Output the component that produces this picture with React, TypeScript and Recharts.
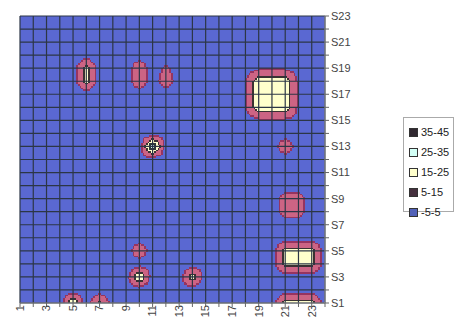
import React from "react";
import {
  ComposedChart,
  XAxis,
  YAxis,
  Scatter,
  ReferenceArea,
  ReferenceLine,
} from "recharts";

// categories along the bottom, series along the right side
const CATEGORIES = [
  1, 2, 3, 4, 5, 6, 7, 8, 9, 10, 11, 12, 13, 14, 15, 16, 17, 18, 19, 20, 21, 22,
  23, 24,
];
const SERIES_NAMES = [
  "S1", "S2", "S3", "S4", "S5", "S6", "S7", "S8", "S9", "S10", "S11", "S12",
  "S13", "S14", "S15", "S16", "S17", "S18", "S19", "S20", "S21", "S22", "S23",
];

// surface values, one row per series (index 0 = category 1)
const S1 = [0, 0, 0, 0, 27, 0, 18, 0, 0, 0, 0, 0, 0, 0, 0, 0, 0, 0, 0, 0, 20, 20, 20, 0];
const S2 = [0, 0, 0, 0, 0, 0, 0, 0, 3, 0, 0, 0, 3, 0, 0, 0, 0, 0, 0, 0, 0, 0, 0, 0];
const S3 = [0, 0, 0, 0, 0, 0, 0, 0, 0, 28, 0, 0, 0, 23, 0, 0, 0, 0, 0, 0, 0, 0, 0, 0];
const S4 = [0, 0, 0, 0, 0, 0, 0, 0, 0, 0, 3, 0, 0, 0, 3, 0, 0, 0, 0, 0, 21, 21, 21, 0];
const S5 = [0, 0, 0, 0, 0, 0, 0, 0, 0, 13, 0, 0, 0, 0, 0, 0, 0, 0, 0, 0, 21, 21, 21, 0];
const S6 = [0, 0, 0, 0, 0, 0, 0, 0, 0, 0, 0, 0, 0, 0, 0, 0, 0, 0, 0, 0, 0, 0, 0, 0];
const S7 = [0, 0, 0, 0, 0, 0, 0, 0, 0, 0, 0, 0, 0, 0, 0, 0, 0, 0, 0, 0, 0, 0, 0, 0];
const S8 = [0, 0, 0, 0, 0, 0, 0, 0, 0, 0, 0, 0, 0, 0, 0, 0, 0, 0, 0, 0, 10, 10, 0, 0];
const S9 = [0, 0, 0, 0, 0, 0, 0, 0, 0, 0, 0, 0, 0, 0, 0, 0, 0, 0, 0, 0, 10, 10, 0, 0];
const S10 = [0, 0, 0, 0, 0, 0, 0, 0, 0, 0, 0, 0, 0, 0, 0, 0, 0, 0, 0, 0, 0, 0, 0, 0];
const S11 = [0, 0, 0, 0, 0, 0, 0, 0, 0, 0, 0, 0, 0, 0, 0, 0, 0, 0, 0, 0, 0, 0, 0, 0];
const S12 = [0, 0, 0, 0, 0, 0, 0, 0, 0, 3, 0, 0, 0, 0, 0, 0, 0, 0, 0, 3, 0, 0, 0, 0];
const S13 = [0, 0, 0, 0, 0, 0, 0, 0, 0, 0, 38, 0, 0, 0, 0, 0, 0, 0, 0, 0, 13, 0, 0, 0];
const S14 = [0, 0, 0, 0, 0, 0, 0, 0, 0, 0, 0, 3, 0, 0, 0, 0, 0, 0, 0, 0, 0, 0, 0, 0];
const S15 = [0, 0, 0, 0, 0, 0, 0, 0, 0, 0, 0, 0, 0, 0, 0, 0, 0, 0, 4, 4, 4, 2, 0, 0];
const S16 = [0, 0, 0, 0, 0, 0, 0, 0, 0, 0, 0, 0, 0, 0, 0, 0, 0, 5, 23, 23, 23, 4, 0, 0];
const S17 = [0, 0, 0, 0, 0, 0, 0, 0, 0, 0, 0, 0, 0, 0, 0, 0, 0, 5, 23, 23, 23, 4, 0, 0];
const S18 = [0, 0, 0, 0, 0, 20, 0, 0, 0, 14, 0, 12, 0, 0, 0, 0, 0, 5, 23, 23, 23, 4, 0, 0];
const S19 = [0, 0, 0, 0, 0, 20, 0, 0, 0, 13, 0, 7, 0, 0, 0, 0, 0, 0, 4, 4, 4, 0, 0, 0];
const S20 = [0, 0, 0, 0, 0, 0, 0, 0, 0, 0, 0, 0, 0, 0, 0, 0, 0, 0, 0, 0, 0, 0, 0, 0];
const S21 = [0, 0, 0, 0, 0, 0, 0, 0, 0, 0, 0, 0, 0, 0, 0, 0, 0, 0, 0, 0, 0, 0, 0, 0];
const S22 = [0, 0, 0, 0, 0, 0, 0, 0, 0, 0, 0, 0, 0, 0, 0, 0, 0, 0, 0, 0, 0, 0, 0, 0];
const S23 = [0, 0, 0, 0, 0, 0, 0, 0, 0, 0, 0, 0, 0, 0, 0, 0, 0, 0, 0, 0, 0, 0, 0, 0];

const ROWS = [
  S1, S2, S3, S4, S5, S6, S7, S8, S9, S10, S11, S12, S13, S14, S15, S16, S17,
  S18, S19, S20, S21, S22, S23,
];

// contour bands
const BAND_LABELS = ["-5-5", "5-15", "15-25", "25-35", "35-45"];
const BAND_LIMITS = [5, 15, 25, 35];

const BAND_FILL = ["#5a68d2", "#cc6484", "#ffffcc", "#d2fff6", "#3a2840"];
const BAND_EDGE = ["#5a68d2", "#963460", "#3a3232", "#2e3a3a", "#201822"];
const LEGEND_SWATCH = ["#5262b8", "#45303e", "#ffffcc", "#d2fff6", "#302830"];
const GRID_LINE = "#2c3646";

const SUB = 8;

function valueAt(x: number, y: number) {
  const i = Math.min(Math.floor(x - 1), CATEGORIES.length - 2);
  const j = Math.min(Math.floor(y - 1), ROWS.length - 2);
  const u = x - 1 - i;
  const v = y - 1 - j;
  const a = ROWS[j][i];
  const b = ROWS[j][i + 1];
  const c = ROWS[j + 1][i];
  const d = ROWS[j + 1][i + 1];
  return a * (1 - u) * (1 - v) + b * u * (1 - v) + c * (1 - u) * v + d * u * v;
}

function bandOf(v: number) {
  let b = 0;
  for (const lim of BAND_LIMITS) if (v >= lim) b++;
  return b;
}

type Cell = { x1: number; x2: number; y1: number; y2: number; fill: string };

// split each grid cell into SUB x SUB pieces and merge runs of one band per row
function buildCells(): Cell[] {
  const cols = (CATEGORIES.length - 1) * SUB;
  const rows = (ROWS.length - 1) * SUB;
  const bands: number[][] = [];
  for (let r = 0; r < rows; r++) {
    const line: number[] = [];
    for (let c = 0; c < cols; c++) {
      line.push(bandOf(valueAt(1 + (c + 0.5) / SUB, 1 + (r + 0.5) / SUB)));
    }
    bands.push(line);
  }
  const out: Cell[] = [];
  for (let r = 0; r < rows; r++) {
    let start = 0;
    let prev = -1;
    const flush = (end: number) => {
      if (prev > 0) {
        const band = prev >> 1;
        const edge = prev & 1;
        out.push({
          x1: 1 + start / SUB,
          x2: 1 + end / SUB,
          y1: 1 + r / SUB,
          y2: 1 + (r + 1) / SUB,
          fill: edge ? BAND_EDGE[band] : BAND_FILL[band],
        });
      }
    };
    for (let c = 0; c < cols; c++) {
      const b = bands[r][c];
      let edge = 0;
      if (b > 0) {
        const nb = [
          c > 0 ? bands[r][c - 1] : b,
          c < cols - 1 ? bands[r][c + 1] : b,
          r > 0 ? bands[r - 1][c] : b,
          r < rows - 1 ? bands[r + 1][c] : b,
        ];
        if (nb.some((n) => n < b)) edge = 1;
      }
      const key = b * 2 + edge;
      if (key !== prev) {
        flush(c);
        start = c;
        prev = key;
      }
    }
    flush(cols);
  }
  return out;
}

const CELLS = buildCells();

const NODES = ROWS.flatMap((row, j) =>
  row.map((value, i) => ({ x: CATEGORIES[i], y: j + 1, value }))
);

const crispRect = (p: any) => (
  <rect
    x={p.x}
    y={p.y}
    width={p.width}
    height={p.height}
    fill={p.fill}
    shapeRendering="crispEdges"
  />
);

const XTick = (props: any) => {
  const { x, y, payload } = props;
  const v = payload.value as number;
  if (v % 2 === 0) return <g />;
  const ty = y - 4;
  return (
    <text
      x={x}
      y={ty}
      transform={`rotate(-90 ${x} ${ty})`}
      textAnchor="end"
      dy="0.35em"
      fontSize={11}
      fill="#444"
    >
      {v}
    </text>
  );
};

export default function App() {
  const seriesTicks = SERIES_NAMES.map((_, k) => k + 1);
  return (
    <div
      style={{
        position: "absolute",
        left: 0,
        top: 0,
        width: 459,
        height: 324,
        background: "#fff",
        fontFamily: "'Liberation Sans', Arial, sans-serif",
      }}
    >
      <ComposedChart
        width={459}
        height={324}
        margin={{ top: 16, right: 94, bottom: 0, left: 20 }}
      >
        <XAxis
          type="number"
          dataKey="x"
          domain={[1, 24]}
          ticks={CATEGORIES}
          interval={0}
          height={21}
          tickSize={4}
          tick={XTick}
          tickLine={{ stroke: "#666" }}
          axisLine={{ stroke: "#888" }}
          allowDataOverflow
        />
        <YAxis
          type="number"
          dataKey="y"
          orientation="right"
          domain={[1, 23]}
          ticks={seriesTicks}
          interval={0}
          width={40}
          tickSize={4}
          tickFormatter={(v: number) => (v % 2 === 1 ? SERIES_NAMES[v - 1] : "")}
          tick={{ fontSize: 11, fill: "#444" }}
          tickLine={{ stroke: "#666" }}
          axisLine={{ stroke: "#999" }}
          allowDataOverflow
        />
        <ReferenceArea
          x1={1}
          x2={24}
          y1={1}
          y2={23}
          fill={BAND_FILL[0]}
          fillOpacity={1}
          shape={crispRect}
        />
        {CELLS.map((c, k) => (
          <ReferenceArea
            key={`c${k}`}
            x1={c.x1}
            x2={c.x2}
            y1={c.y1}
            y2={c.y2}
            fill={c.fill}
            fillOpacity={1}
            shape={crispRect}
          />
        ))}
        {CATEGORIES.map((k) => (
          <ReferenceLine
            key={`vx${k}`}
            x={k}
            stroke={GRID_LINE}
            strokeWidth={1.2}
          />
        ))}
        {seriesTicks.map((k) => (
          <ReferenceLine
            key={`hy${k}`}
            y={k}
            stroke={GRID_LINE}
            strokeWidth={1.2}
          />
        ))}
        <Scatter
          data={NODES}
          dataKey="value"
          isAnimationActive={false}
          shape={() => <g />}
        />
      </ComposedChart>
      <div
        style={{
          position: "absolute",
          left: 403,
          top: 117,
          width: 51,
          height: 95,
          border: "1px solid #aaa",
          boxSizing: "border-box",
          padding: "4px 0 0 5px",
        }}
      >
        {[4, 3, 2, 1, 0].map((b) => (
          <div
            key={b}
            style={{
              display: "flex",
              alignItems: "center",
              height: 20,
              fontSize: 11,
              color: "#222",
            }}
          >
            <span
              style={{
                display: "inline-block",
                width: 7,
                height: 7,
                marginRight: 3,
                background: LEGEND_SWATCH[b],
                border: "1px solid #333",
              }}
            />
            {BAND_LABELS[b]}
          </div>
        ))}
      </div>
    </div>
  );
}
